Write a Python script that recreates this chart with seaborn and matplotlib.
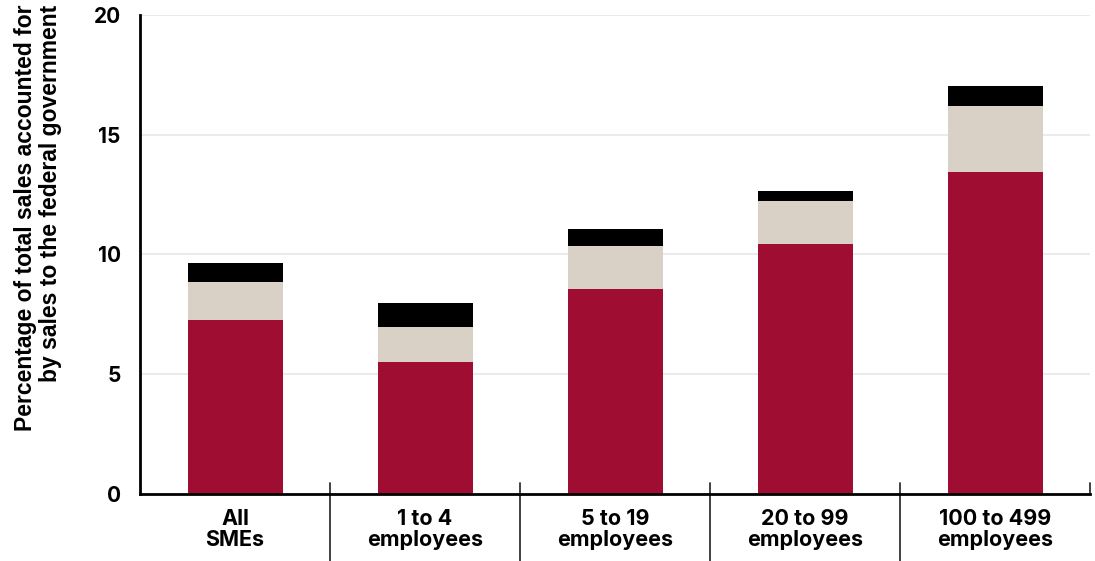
import matplotlib
matplotlib.use("Agg")
import matplotlib.pyplot as plt
import matplotlib.transforms as mtransforms
import numpy as np
import pandas as pd
import seaborn as sns

categories = ["All\nSMEs", "1 to 4\nemployees", "5 to 19\nemployees",
              "20 to 99\nemployees", "100 to 499\nemployees"]
red_vals = [7.27, 5.51, 8.56, 10.44, 13.45]
beige_vals = [1.58, 1.46, 1.80, 1.79, 2.74]
black_vals = [0.80, 1.00, 0.70, 0.42, 0.85]
yticks = [0, 5, 10, 15, 20]

red = "#a00d32"
beige = "#d9d0c6"
black = "#000000"

df = pd.DataFrame({"cat": categories, "red": red_vals,
                   "beige": beige_vals, "black": black_vals})
df["lvl1"] = df["red"]
df["lvl2"] = df["red"] + df["beige"]
df["lvl3"] = df["lvl2"] + df["black"]

sns.set_style("white")
plt.rcParams["font.family"] = ["Inter", "DejaVu Sans"]
plt.rcParams["text.color"] = "black"
plt.rcParams["xtick.color"] = "black"
plt.rcParams["ytick.color"] = "black"
plt.rcParams["axes.labelcolor"] = "black"

fig = plt.figure(figsize=(10.95, 5.61), dpi=100)
ax = fig.add_axes([140 / 1095, (561 - 494) / 561, 950 / 1095, 479 / 561])

# stacked bars: draw cumulative heights back to front
for col, c in [("lvl3", black), ("lvl2", beige), ("lvl1", red)]:
    sns.barplot(data=df, x="cat", y=col, order=categories, color=c,
                saturation=1, width=0.5, linewidth=0, ax=ax)

ax.set_xlim(-0.5, len(categories) - 0.5)
ax.set_ylim(0, 20)
ax.set_yticks(yticks)
ax.yaxis.grid(True, color="#e8e8e8", lw=1.2)
ax.xaxis.grid(False)
ax.set_axisbelow(True)

for s in ["top", "right"]:
    ax.spines[s].set_visible(False)
for s in ["left", "bottom"]:
    ax.spines[s].set_color("black")
    ax.spines[s].set_linewidth(2)

ax.tick_params(axis="x", length=0, pad=11, labelsize=15.5)
ax.tick_params(axis="y", length=0, pad=14, labelsize=15)
for lab in ax.get_xticklabels() + ax.get_yticklabels():
    lab.set_fontweight("bold")
for lab in ax.get_xticklabels():
    lab.set_linespacing(1.02)

# category separators
trans = mtransforms.blended_transform_factory(ax.transData, ax.transAxes)
for b in np.arange(0.5, len(categories) - 1, 1.0):
    ax.plot([b, b], [0.023, -0.15], color="#333333", lw=1.3,
            transform=trans, clip_on=False)
ax.plot([4.5, 4.5], [0.023, 0], color="#333333", lw=1.3,
        transform=trans, clip_on=False)

ax.set_xlabel("")
ax.set_ylabel("Percentage of total sales accounted for\nby sales to the federal government",
              fontsize=16.5, fontweight="bold", family=["Liberation Sans", "DejaVu Sans"],
              loc="top", multialignment="right", linespacing=1.1)
ax.yaxis.set_label_coords(-0.082, 1.021)

fig.savefig("out.png", dpi=100)
